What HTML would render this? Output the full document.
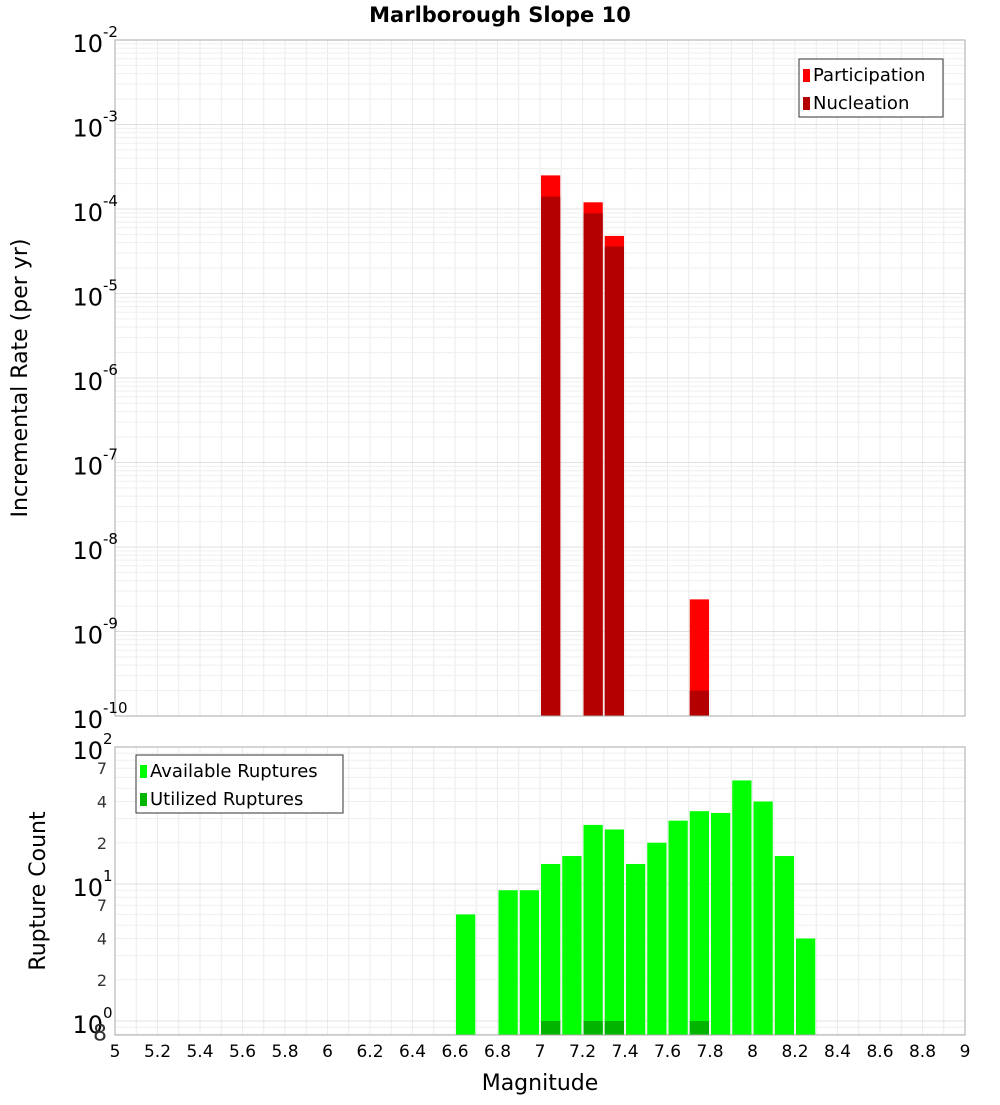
<!DOCTYPE html>
<html><head><meta charset="utf-8"><style>
body{margin:0;background:#fff;font-family:"Liberation Sans","DejaVu Sans",sans-serif}
</style></head><body>
<svg id="c" width="1000" height="1100" xmlns="http://www.w3.org/2000/svg" font-family="DejaVu Sans, Liberation Sans, sans-serif"></svg>
<script>
const topMags=[7.0,7.2,7.3,7.7];
const participation=[2.5e-4,1.2e-4,4.8e-5,2.4e-9];
const nucleation=[1.4e-4,8.9e-5,3.6e-5,2.0e-10];
const botMags=[6.6,6.8,6.9,7.0,7.1,7.2,7.3,7.4,7.5,7.6,7.7,7.8,7.9,8.0,8.1,8.2];
const available=[6,9,9,14,16,27,25,14,20,29,34,33,57,40,16,4];
const utilMags=[7.0,7.2,7.3,7.7];
const utilized=[1,1,1,1];
const xTicks=[5,5.2,5.4,5.6,5.8,6,6.2,6.4,6.6,6.8,7,7.2,7.4,7.6,7.8,8,8.2,8.4,8.6,8.8,9];

const svg=document.getElementById('c');
const NS='http://www.w3.org/2000/svg';
function el(t,a,p){const e=document.createElementNS(NS,t);for(const k in a)e.setAttribute(k,a[k]);(p||svg).appendChild(e);return e;}
const X0=115,X1=965;
const x=m=>X0+(m-5)/4*(X1-X0);
const T0=40,T1=716;
const yT=v=>T0+(-2-Math.log10(v))/8*(T1-T0);
const B0=747,B1=1035,BD=137;
const yB=v=>B0+(2-Math.log10(v))*BD;

function frame(y0,y1,name){
  const g=el('g',{});
  for(let m=5;m<=9.001;m+=0.1){el('line',{x1:x(m),x2:x(m),y1:y0,y2:y1,stroke:'#ebebeb','stroke-width':1},g);}
  return g;
}
// top grid
const gt=frame(T0,T1,'top');
for(let d=-10;d<-2;d++)for(let k=1;k<10;k++){const y=yT(k*Math.pow(10,d));el('line',{x1:X0,x2:X1,y1:y,y2:y,stroke:k==1?'#e0e0e0':'#efefef'},gt);}
const gb=frame(B0,B1,'bottom');
for(let d=-1;d<2;d++)for(let k=1;k<10;k++){const y=yB(k*Math.pow(10,d));if(y>B1||y<B0)continue;el('line',{x1:X0,x2:X1,y1:y,y2:y,stroke:k==1?'#e0e0e0':'#efefef'},gb);}

// top bars
topMags.forEach((m,i)=>{
  let r=el('rect',{x:x(m)+1,y:yT(participation[i]),width:x(m+0.1)-x(m)-2,height:T1-yT(participation[i]),fill:'#ff0000'});
  
  r=el('rect',{x:x(m)+1,y:yT(nucleation[i]),width:x(m+0.1)-x(m)-2,height:T1-yT(nucleation[i]),fill:'#b40000'});
  
});
botMags.forEach((m,i)=>{
  const r=el('rect',{x:x(m)+1,y:yB(available[i]),width:x(m+0.1)-x(m)-2,height:B1-yB(available[i]),fill:'#00ff00'});
  
});
utilMags.forEach((m,i)=>{
  const r=el('rect',{x:x(m)+1,y:yB(utilized[i]),width:x(m+0.1)-x(m)-2,height:B1-yB(utilized[i]),fill:'#00b400'});
  
});
el('rect',{x:X0,y:T0,width:X1-X0,height:T1-T0,fill:'none',stroke:'#aaa'});
el('rect',{x:X0,y:B0,width:X1-X0,height:B1-B0,fill:'none',stroke:'#aaa'});

// top y labels
for(let d=-10;d<=-2;d++){
  const y=yT(Math.pow(10,d));
  const t=el('text',{x:103,y:y+12,'font-size':24,'text-anchor':'end',fill:'#000'});
  
  t.textContent='10';
  const s=el('text',{x:103,y:y-3,'font-size':15,fill:'#000'});s.textContent=String(d);
  
}
// bottom y labels
[0,1,2].forEach(d=>{
  const y=yB(Math.pow(10,d));
  const t=el('text',{x:103,y:y+12,'font-size':24,'text-anchor':'end'});t.textContent='10';
  
  const s=el('text',{x:103,y:y-3,'font-size':15});s.textContent=String(d);
  
});
[[7,1],[4,1],[2,1],[7,10],[4,10],[2,10],[8,0.1]].forEach(([k,s])=>{
  const v=k*s;const y=yB(v);
  const t=el('text',{x:107,y:y+6,'font-size':k==8?22:16,'text-anchor':'end',fill:'#333'});
  t.textContent=String(k);
});
// x ticks
xTicks.forEach(m=>{
  const t=el('text',{x:x(m),y:1057,'font-size':17,'text-anchor':'middle'});
  t.textContent=String(m);
});
function txt(s,a,name,rot){const t=el('text',a);t.textContent=s;return t;}
txt('Marlborough Slope 10',{x:500,y:22,'font-size':21,'font-weight':'bold','text-anchor':'middle'},'chart-title');
txt('Magnitude',{x:540,y:1090,'font-size':22,'text-anchor':'middle'},'x-axis-title');
txt('Incremental Rate (per yr)',{x:27,y:378,'font-size':22,'text-anchor':'middle',transform:'rotate(-90 27 378)'},'top-y-axis-title');
txt('Rupture Count',{x:45,y:891,'font-size':22,'text-anchor':'middle',transform:'rotate(-90 45 891)'},'bottom-y-axis-title');
// legends
function legend(x0,y0,w,items,name){
  const g=el('g',{});
  el('rect',{x:x0,y:y0,width:w,height:58,fill:'#fff',stroke:'#333'},g);
  items.forEach((it,i)=>{
    el('rect',{x:x0+4,y:y0+10+i*28,width:7,height:13,fill:it[1]},g);
    const t=el('text',{x:x0+14,y:y0+22+i*28,'font-size':18},g);t.textContent=it[0];
  });
}
legend(799,59,144,[['Participation','#ff0000'],['Nucleation','#b40000']],'top-legend');
legend(136,755,207,[['Available Ruptures','#00ff00'],['Utilized Ruptures','#00b400']],'bottom-legend');
</script>
</body></html>
